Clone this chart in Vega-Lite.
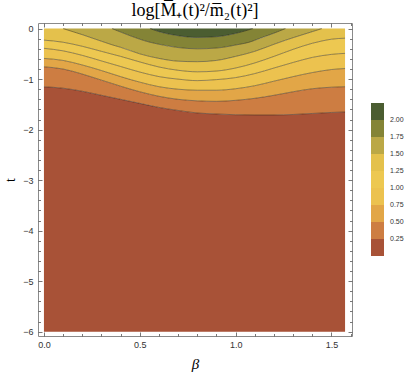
{
  "$schema": "https://vega.github.io/schema/vega-lite/v6.json",
  "width": 314,
  "height": 313,
  "autosize": {"type": "none"},
  "padding": {"left": 38, "top": 23, "right": 57, "bottom": 38},
  "background": "white",
  "title": {"text": "log[M̅₊(t)²/m̅₂(t)²]", "font": "Liberation Serif", "fontSize": 18, "fontWeight": "normal", "color": "#000", "anchor": "middle", "baseline": "alphabetic", "offset": 6, "dy": 17, "frame": "group"},
  "config": {
    "view": {"stroke": "#8a8a8a", "strokeWidth": 1},
    "axis": {"domain": false, "grid": false, "tickColor": "#555", "tickWidth": 0.8, "labelFont": "Liberation Sans", "labelFontSize": 9, "labelColor": "#333", "titleFont": "Liberation Serif", "titleFontWeight": "normal", "titleColor": "#000", "labelOverlap": false, "labelFlush": false}
  },
  "data": {"values": [
    {"level": 0, "beta": 0, "lo": -6, "hi": -1.152},
    {"level": 0, "beta": 0.1, "lo": -6, "hi": -1.18},
    {"level": 0, "beta": 0.2, "lo": -6, "hi": -1.24},
    {"level": 0, "beta": 0.3, "lo": -6, "hi": -1.32},
    {"level": 0, "beta": 0.4, "lo": -6, "hi": -1.4},
    {"level": 0, "beta": 0.5, "lo": -6, "hi": -1.48},
    {"level": 0, "beta": 0.6, "lo": -6, "hi": -1.56},
    {"level": 0, "beta": 0.7, "lo": -6, "hi": -1.62},
    {"level": 0, "beta": 0.8, "lo": -6, "hi": -1.67},
    {"level": 0, "beta": 0.9, "lo": -6, "hi": -1.69},
    {"level": 0, "beta": 1.0, "lo": -6, "hi": -1.705},
    {"level": 0, "beta": 1.1, "lo": -6, "hi": -1.71},
    {"level": 0, "beta": 1.2, "lo": -6, "hi": -1.71},
    {"level": 0, "beta": 1.3, "lo": -6, "hi": -1.7},
    {"level": 0, "beta": 1.4, "lo": -6, "hi": -1.68},
    {"level": 0, "beta": 1.5, "lo": -6, "hi": -1.66},
    {"level": 0, "beta": 1.5708, "lo": -6, "hi": -1.65},

    {"level": 0.25, "beta": 0, "lo": -1.152, "hi": -0.756},
    {"level": 0.25, "beta": 0.1, "lo": -1.18, "hi": -0.8},
    {"level": 0.25, "beta": 0.2, "lo": -1.24, "hi": -0.9},
    {"level": 0.25, "beta": 0.3, "lo": -1.32, "hi": -1.02},
    {"level": 0.25, "beta": 0.4, "lo": -1.4, "hi": -1.14},
    {"level": 0.25, "beta": 0.5, "lo": -1.48, "hi": -1.25},
    {"level": 0.25, "beta": 0.6, "lo": -1.56, "hi": -1.34},
    {"level": 0.25, "beta": 0.7, "lo": -1.62, "hi": -1.4},
    {"level": 0.25, "beta": 0.8, "lo": -1.67, "hi": -1.43},
    {"level": 0.25, "beta": 0.9, "lo": -1.69, "hi": -1.44},
    {"level": 0.25, "beta": 1.0, "lo": -1.705, "hi": -1.42},
    {"level": 0.25, "beta": 1.1, "lo": -1.71, "hi": -1.38},
    {"level": 0.25, "beta": 1.2, "lo": -1.71, "hi": -1.32},
    {"level": 0.25, "beta": 1.3, "lo": -1.7, "hi": -1.25},
    {"level": 0.25, "beta": 1.4, "lo": -1.68, "hi": -1.19},
    {"level": 0.25, "beta": 1.5, "lo": -1.66, "hi": -1.16},
    {"level": 0.25, "beta": 1.5708, "lo": -1.65, "hi": -1.15},

    {"level": 0.5, "beta": 0, "lo": -0.756, "hi": -0.59},
    {"level": 0.5, "beta": 0.1, "lo": -0.8, "hi": -0.63},
    {"level": 0.5, "beta": 0.2, "lo": -0.9, "hi": -0.72},
    {"level": 0.5, "beta": 0.3, "lo": -1.02, "hi": -0.83},
    {"level": 0.5, "beta": 0.4, "lo": -1.14, "hi": -0.95},
    {"level": 0.5, "beta": 0.5, "lo": -1.25, "hi": -1.06},
    {"level": 0.5, "beta": 0.6, "lo": -1.34, "hi": -1.15},
    {"level": 0.5, "beta": 0.7, "lo": -1.4, "hi": -1.2},
    {"level": 0.5, "beta": 0.8, "lo": -1.43, "hi": -1.22},
    {"level": 0.5, "beta": 0.9, "lo": -1.44, "hi": -1.22},
    {"level": 0.5, "beta": 1.0, "lo": -1.42, "hi": -1.19},
    {"level": 0.5, "beta": 1.1, "lo": -1.38, "hi": -1.13},
    {"level": 0.5, "beta": 1.2, "lo": -1.32, "hi": -1.04},
    {"level": 0.5, "beta": 1.3, "lo": -1.25, "hi": -0.95},
    {"level": 0.5, "beta": 1.4, "lo": -1.19, "hi": -0.87},
    {"level": 0.5, "beta": 1.5, "lo": -1.16, "hi": -0.81},
    {"level": 0.5, "beta": 1.5708, "lo": -1.15, "hi": -0.79},

    {"level": 0.75, "beta": 0, "lo": -0.59, "hi": -0.39},
    {"level": 0.75, "beta": 0.1, "lo": -0.63, "hi": -0.44},
    {"level": 0.75, "beta": 0.2, "lo": -0.72, "hi": -0.53},
    {"level": 0.75, "beta": 0.3, "lo": -0.83, "hi": -0.64},
    {"level": 0.75, "beta": 0.4, "lo": -0.95, "hi": -0.75},
    {"level": 0.75, "beta": 0.5, "lo": -1.06, "hi": -0.86},
    {"level": 0.75, "beta": 0.6, "lo": -1.15, "hi": -0.95},
    {"level": 0.75, "beta": 0.7, "lo": -1.2, "hi": -1.0},
    {"level": 0.75, "beta": 0.8, "lo": -1.22, "hi": -1.03},
    {"level": 0.75, "beta": 0.9, "lo": -1.22, "hi": -1.01},
    {"level": 0.75, "beta": 1.0, "lo": -1.19, "hi": -0.97},
    {"level": 0.75, "beta": 1.1, "lo": -1.13, "hi": -0.89},
    {"level": 0.75, "beta": 1.2, "lo": -1.04, "hi": -0.78},
    {"level": 0.75, "beta": 1.3, "lo": -0.95, "hi": -0.67},
    {"level": 0.75, "beta": 1.4, "lo": -0.87, "hi": -0.57},
    {"level": 0.75, "beta": 1.5, "lo": -0.81, "hi": -0.51},
    {"level": 0.75, "beta": 1.5708, "lo": -0.79, "hi": -0.49},

    {"level": 1.0, "beta": 0, "lo": -0.39, "hi": -0.228},
    {"level": 1.0, "beta": 0.1, "lo": -0.44, "hi": -0.27},
    {"level": 1.0, "beta": 0.2, "lo": -0.53, "hi": -0.35},
    {"level": 1.0, "beta": 0.3, "lo": -0.64, "hi": -0.45},
    {"level": 1.0, "beta": 0.4, "lo": -0.75, "hi": -0.55},
    {"level": 1.0, "beta": 0.5, "lo": -0.86, "hi": -0.66},
    {"level": 1.0, "beta": 0.6, "lo": -0.95, "hi": -0.76},
    {"level": 1.0, "beta": 0.7, "lo": -1.0, "hi": -0.825},
    {"level": 1.0, "beta": 0.8, "lo": -1.03, "hi": -0.855},
    {"level": 1.0, "beta": 0.9, "lo": -1.01, "hi": -0.84},
    {"level": 1.0, "beta": 1.0, "lo": -0.97, "hi": -0.78},
    {"level": 1.0, "beta": 1.1, "lo": -0.89, "hi": -0.68},
    {"level": 1.0, "beta": 1.2, "lo": -0.78, "hi": -0.55},
    {"level": 1.0, "beta": 1.3, "lo": -0.67, "hi": -0.41},
    {"level": 1.0, "beta": 1.4, "lo": -0.57, "hi": -0.29},
    {"level": 1.0, "beta": 1.5, "lo": -0.51, "hi": -0.21},
    {"level": 1.0, "beta": 1.5708, "lo": -0.49, "hi": -0.19},

    {"level": 1.25, "beta": 0, "lo": -0.228, "hi": 0},
    {"level": 1.25, "beta": 0.1, "lo": -0.27, "hi": 0},
    {"level": 1.25, "beta": 0.2, "lo": -0.35, "hi": -0.12},
    {"level": 1.25, "beta": 0.3, "lo": -0.45, "hi": -0.25},
    {"level": 1.25, "beta": 0.4, "lo": -0.55, "hi": -0.37},
    {"level": 1.25, "beta": 0.5, "lo": -0.66, "hi": -0.5},
    {"level": 1.25, "beta": 0.6, "lo": -0.76, "hi": -0.59},
    {"level": 1.25, "beta": 0.7, "lo": -0.825, "hi": -0.645},
    {"level": 1.25, "beta": 0.8, "lo": -0.855, "hi": -0.655},
    {"level": 1.25, "beta": 0.9, "lo": -0.84, "hi": -0.63},
    {"level": 1.25, "beta": 1.0, "lo": -0.78, "hi": -0.55},
    {"level": 1.25, "beta": 1.1, "lo": -0.68, "hi": -0.45},
    {"level": 1.25, "beta": 1.2, "lo": -0.55, "hi": -0.31},
    {"level": 1.25, "beta": 1.3, "lo": -0.41, "hi": -0.18},
    {"level": 1.25, "beta": 1.4, "lo": -0.29, "hi": -0.06},
    {"level": 1.25, "beta": 1.45, "lo": -0.245, "hi": 0},
    {"level": 1.25, "beta": 1.5, "lo": -0.21, "hi": 0},
    {"level": 1.25, "beta": 1.5708, "lo": -0.19, "hi": 0},

    {"level": 1.5, "beta": 0.1, "lo": 0, "hi": 0},
    {"level": 1.5, "beta": 0.2, "lo": -0.12, "hi": 0},
    {"level": 1.5, "beta": 0.3, "lo": -0.25, "hi": 0},
    {"level": 1.5, "beta": 0.355, "lo": -0.32, "hi": 0},
    {"level": 1.5, "beta": 0.4, "lo": -0.37, "hi": -0.068},
    {"level": 1.5, "beta": 0.5, "lo": -0.5, "hi": -0.21},
    {"level": 1.5, "beta": 0.6, "lo": -0.59, "hi": -0.31},
    {"level": 1.5, "beta": 0.7, "lo": -0.645, "hi": -0.375},
    {"level": 1.5, "beta": 0.8, "lo": -0.655, "hi": -0.4},
    {"level": 1.5, "beta": 0.9, "lo": -0.63, "hi": -0.385},
    {"level": 1.5, "beta": 1.0, "lo": -0.55, "hi": -0.325},
    {"level": 1.5, "beta": 1.1, "lo": -0.45, "hi": -0.23},
    {"level": 1.5, "beta": 1.2, "lo": -0.31, "hi": -0.09},
    {"level": 1.5, "beta": 1.26, "lo": -0.23, "hi": 0},
    {"level": 1.5, "beta": 1.3, "lo": -0.18, "hi": 0},
    {"level": 1.5, "beta": 1.4, "lo": -0.06, "hi": 0},
    {"level": 1.5, "beta": 1.45, "lo": 0, "hi": 0},

    {"level": 1.75, "beta": 0.355, "lo": 0, "hi": 0},
    {"level": 1.75, "beta": 0.4, "lo": -0.068, "hi": 0},
    {"level": 1.75, "beta": 0.5, "lo": -0.21, "hi": 0},
    {"level": 1.75, "beta": 0.553, "lo": -0.27, "hi": 0},
    {"level": 1.75, "beta": 0.6, "lo": -0.31, "hi": -0.06},
    {"level": 1.75, "beta": 0.7, "lo": -0.375, "hi": -0.14},
    {"level": 1.75, "beta": 0.8, "lo": -0.4, "hi": -0.175},
    {"level": 1.75, "beta": 0.9, "lo": -0.385, "hi": -0.16},
    {"level": 1.75, "beta": 1.0, "lo": -0.325, "hi": -0.095},
    {"level": 1.75, "beta": 1.09, "lo": -0.245, "hi": 0},
    {"level": 1.75, "beta": 1.1, "lo": -0.23, "hi": 0},
    {"level": 1.75, "beta": 1.2, "lo": -0.09, "hi": 0},
    {"level": 1.75, "beta": 1.26, "lo": 0, "hi": 0},

    {"level": 2.0, "beta": 0.553, "lo": 0, "hi": 0},
    {"level": 2.0, "beta": 0.6, "lo": -0.06, "hi": 0},
    {"level": 2.0, "beta": 0.7, "lo": -0.14, "hi": 0},
    {"level": 2.0, "beta": 0.8, "lo": -0.175, "hi": 0},
    {"level": 2.0, "beta": 0.9, "lo": -0.16, "hi": 0},
    {"level": 2.0, "beta": 1.0, "lo": -0.095, "hi": 0},
    {"level": 2.0, "beta": 1.09, "lo": 0, "hi": 0}
  ]},
  "resolve": {"axis": {"x": "independent", "y": "independent"}},
  "layer": [
    {
      "mark": {"type": "area", "interpolate": "monotone"},
      "encoding": {
        "x": {"field": "beta", "type": "quantitative", "scale": {"domain": [-0.031, 1.607], "nice": false, "zero": false},
          "axis": {"orient": "bottom", "values": [0, 0.1, 0.2, 0.3, 0.4, 0.5, 0.6, 0.7, 0.8, 0.9, 1.0, 1.1, 1.2, 1.3, 1.4, 1.5, 1.6],
            "labelExpr": "round(datum.value*10) % 5 == 0 ? format(datum.value, '.1f') : ''",
            "tickSize": {"condition": {"test": "round(datum.value*10) % 5 == 0", "value": -4}, "value": -2.5},
            "labelPadding": 8, "title": "β", "titleFontStyle": "italic", "titleFontSize": 15, "titleBaseline": "alphabetic", "titleX": 157, "titleY": 32.5}},
        "y": {"field": "hi", "type": "quantitative", "scale": {"domain": [-6.085, 0.111], "nice": false, "zero": false},
          "axis": {"orient": "left", "values": [0, -0.2, -0.4, -0.6, -0.8, -1, -1.2, -1.4, -1.6, -1.8, -2, -2.2, -2.4, -2.6, -2.8, -3, -3.2, -3.4, -3.6, -3.8, -4, -4.2, -4.4, -4.6, -4.8, -5, -5.2, -5.4, -5.6, -5.8, -6],
            "labelExpr": "abs(round(datum.value*5)) % 5 == 0 ? format(datum.value, 'd') : ''",
            "tickSize": {"condition": {"test": "abs(round(datum.value*5)) % 5 == 0", "value": -4}, "value": -2.5},
            "labelPadding": 9, "title": "t", "titleFontSize": 14, "titleAngle": -90, "titleBaseline": "alphabetic", "titleX": -24, "titleY": 156.5}},
        "y2": {"field": "lo"},
        "color": {"field": "level", "type": "quantitative",
          "scale": {"type": "threshold", "domain": [0.25, 0.5, 0.75, 1, 1.25, 1.5, 1.75, 2], "range": ["#a85237", "#cd7d42", "#e2a647", "#ecc24f", "#edc851", "#e4c14c", "#bba846", "#848436", "#4b5d31"]},
          "legend": {"type": "gradient", "direction": "vertical", "orient": "none", "legendX": 333, "legendY": 80, "gradientLength": 153, "gradientThickness": 13, "gradientStrokeWidth": 0, "title": null, "labelFont": "Liberation Sans", "labelFontSize": 7, "labelColor": "#333", "labelOffset": 6, "format": ".2f", "labelOverlap": false}}
      }
    },
    {
      "transform": [{"filter": "datum.level > 0"}],
      "mark": {"type": "line", "interpolate": "monotone", "color": "#1a1a1a", "strokeWidth": 0.8, "opacity": 0.55},
      "encoding": {
        "x": {"field": "beta", "type": "quantitative",
          "axis": {"orient": "top", "values": [0, 0.1, 0.2, 0.3, 0.4, 0.5, 0.6, 0.7, 0.8, 0.9, 1.0, 1.1, 1.2, 1.3, 1.4, 1.5, 1.6], "labels": false, "title": null,
            "tickSize": {"condition": {"test": "round(datum.value*10) % 5 == 0", "value": -4}, "value": -2.5}}},
        "y": {"field": "lo", "type": "quantitative",
          "axis": {"orient": "right", "values": [0, -0.2, -0.4, -0.6, -0.8, -1, -1.2, -1.4, -1.6, -1.8, -2, -2.2, -2.4, -2.6, -2.8, -3, -3.2, -3.4, -3.6, -3.8, -4, -4.2, -4.4, -4.6, -4.8, -5, -5.2, -5.4, -5.6, -5.8, -6], "labels": false, "title": null,
            "tickSize": {"condition": {"test": "abs(round(datum.value*5)) % 5 == 0", "value": -4}, "value": -2.5}}},
        "detail": {"field": "level", "type": "nominal"}
      }
    }
  ]
}
